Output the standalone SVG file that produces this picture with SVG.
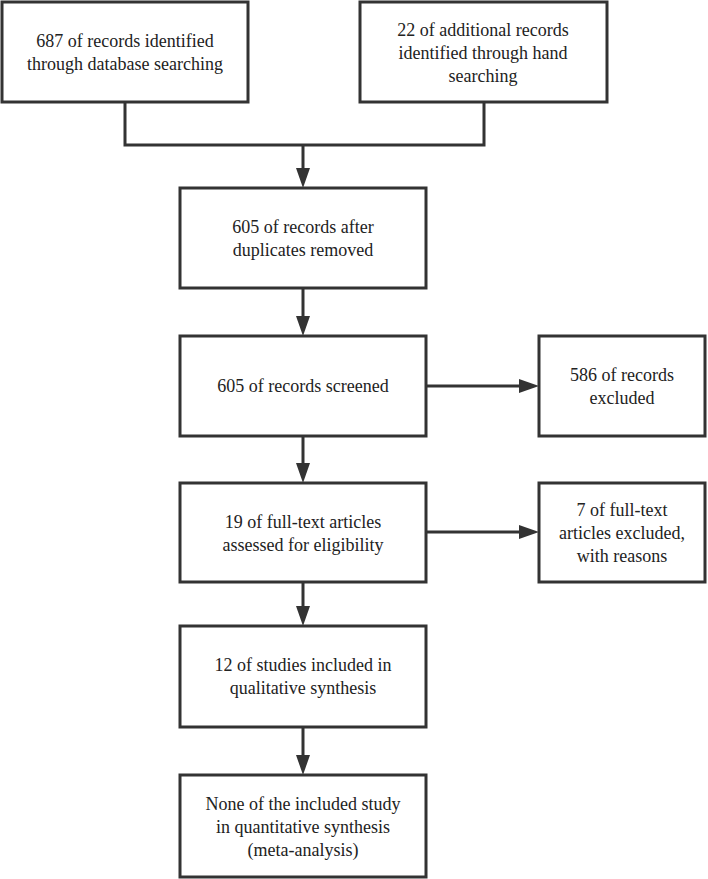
<svg xmlns="http://www.w3.org/2000/svg" width="708" height="879" viewBox="0 0 708 879">
<style>
.box{fill:#fff;stroke:#333;stroke-width:3}
.t{font-family:"Liberation Serif","Times New Roman",serif;font-size:18px;fill:#222;text-anchor:middle}
.c{fill:none;stroke:#333;stroke-width:3}
</style>
<defs>
<marker id="ah" markerUnits="userSpaceOnUse" markerWidth="22" markerHeight="16" refX="10" refY="7" orient="auto">
<path d="M0,0 L20,7 L0,14 z" fill="#333"/>
</marker>
</defs>
<rect width="708" height="879" fill="#fff"/>
<g id="connectors">
<path class="c" d="M125,102 V145 H484 V102"/>
<path class="c" d="M303,145 V178" marker-end="url(#ah)"/>
<path class="c" d="M303,288 V326" marker-end="url(#ah)"/>
<path class="c" d="M426,386 H529" marker-end="url(#ah)"/>
<path class="c" d="M303,436 V473" marker-end="url(#ah)"/>
<path class="c" d="M426,532 H529" marker-end="url(#ah)"/>
<path class="c" d="M303,582 V616" marker-end="url(#ah)"/>
<path class="c" d="M303,727 V765" marker-end="url(#ah)"/>
</g>
<g id="n1"><rect class="box" x="2" y="2" width="246" height="100"/>
<text class="t" x="125" y="47">687 of records identified</text>
<text class="t" x="125" y="70">through database searching</text></g>
<g id="n2"><rect class="box" x="360" y="2" width="247" height="100"/>
<text class="t" x="483" y="36">22 of additional records</text>
<text class="t" x="483" y="59">identified through hand</text>
<text class="t" x="483" y="82">searching</text></g>
<g id="n3"><rect class="box" x="180" y="188" width="246" height="100"/>
<text class="t" x="303" y="233">605 of records after</text>
<text class="t" x="303" y="256">duplicates removed</text></g>
<g id="n4"><rect class="box" x="180" y="336" width="246" height="100"/>
<text class="t" x="303" y="392">605 of records screened</text></g>
<g id="n5"><rect class="box" x="539" y="336" width="166" height="100"/>
<text class="t" x="622" y="381">586 of records</text>
<text class="t" x="622" y="404">excluded</text></g>
<g id="n6"><rect class="box" x="180" y="483" width="246" height="99"/>
<text class="t" x="303" y="528">19 of full-text articles</text>
<text class="t" x="303" y="551">assessed for eligibility</text></g>
<g id="n7"><rect class="box" x="539" y="483" width="166" height="99"/>
<text class="t" x="622" y="516">7 of full-text</text>
<text class="t" x="622" y="539">articles excluded,</text>
<text class="t" x="622" y="562">with reasons</text></g>
<g id="n8"><rect class="box" x="180" y="626" width="246" height="101"/>
<text class="t" x="303" y="671">12 of studies included in</text>
<text class="t" x="303" y="694">qualitative synthesis</text></g>
<g id="n9"><rect class="box" x="180" y="775" width="246" height="102"/>
<text class="t" x="303" y="810">None of the included study</text>
<text class="t" x="303" y="833">in quantitative synthesis</text>
<text class="t" x="303" y="856">(meta-analysis)</text></g>
</svg>
